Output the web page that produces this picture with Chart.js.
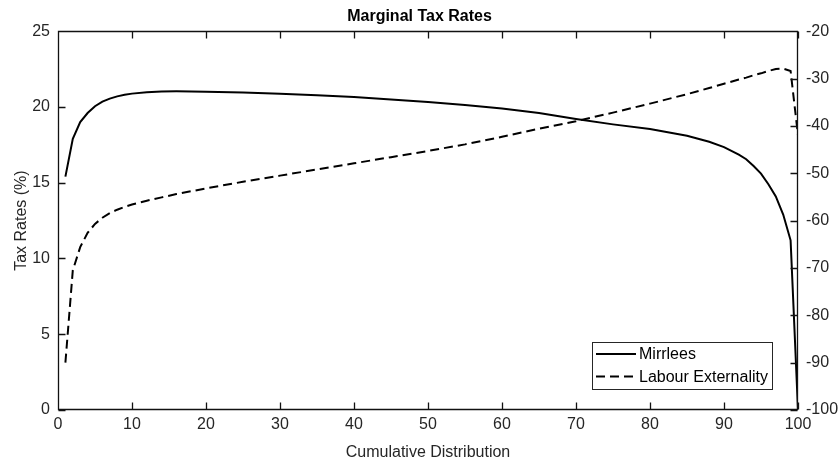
<!DOCTYPE html>
<html>
<head>
<meta charset="utf-8">
<script src="https://cdn.jsdelivr.net/npm/chart.js@4/dist/chart.umd.min.js"></script>
<style>
  html, body { margin: 0; padding: 0; background: #ffffff; }
  #wrap { width: 839px; height: 467px; }
</style>
</head>
<body>
<div id="wrap"><canvas id="c" width="839" height="467"></canvas></div>
<script>
// Cumulative distribution points (percent) at which both schedules are evaluated
const percentiles = [1, 2, 3, 4, 5, 6, 7, 8, 9, 10, 12, 14, 16, 18, 20, 25, 30, 35, 40, 45,
  50, 55, 60, 65, 70, 75, 80, 85, 88, 90, 92, 93, 94, 95, 96, 97, 98, 99, 100];

// Mirrlees marginal tax rate (%), left axis
const mirrlees = [15.4, 17.9, 19.0, 19.6, 20.05, 20.35, 20.55, 20.7, 20.8, 20.88, 20.97, 21.02, 21.03, 21.02, 21.0,
  20.95, 20.87, 20.77, 20.65, 20.5, 20.33, 20.13, 19.9, 19.6, 19.2, 18.85, 18.55, 18.1, 17.7, 17.35,
  16.85, 16.55, 16.1, 15.6, 14.9, 14.1, 12.9, 11.2, 0];

// Labour externality marginal tax rate (%), right axis
const labourExternality = [-90, -70.5, -65.6, -62.6, -60.7, -59.4, -58.4, -57.7, -57.1, -56.6, -55.8, -55.1, -54.4, -53.8, -53.2,
  -51.8, -50.5, -49.2, -47.9, -46.6, -45.3, -43.9, -42.3, -40.6, -39.0, -37.2, -35.3, -33.3, -32.0, -31.1,
  -30.2, -29.8, -29.3, -28.9, -28.4, -28.0, -27.9, -28.4, -42];

const xTicks = [0, 10, 20, 30, 40, 50, 60, 70, 80, 90, 100];
const leftTicks = [0, 5, 10, 15, 20, 25];
const rightTicks = [-100, -90, -80, -70, -60, -50, -40, -30, -20];

const FONT = "'Liberation Sans', Arial, Helvetica, sans-serif";
const AXIS_COLOR = '#262626';

const toPoints = (xs, ys) => xs.map((x, i) => ({ x: x, y: ys[i] }));

// Box frame with inward-pointing tick marks on all four sides
const framePlugin = {
  id: 'frame',
  afterDraw(chart) {
    const ctx = chart.ctx;
    const a = chart.chartArea;
    const sx = chart.scales.x, sy = chart.scales.y, sy2 = chart.scales.y2;
    const len = 7;
    const L = Math.round(a.left) + 0.5, R = Math.round(a.right) - 0.5;
    const T = Math.round(a.top) + 0.5, B = Math.round(a.bottom) - 0.5;
    ctx.save();
    ctx.setLineDash([]);
    ctx.lineWidth = 1.3;
    ctx.strokeStyle = '#111111';
    ctx.beginPath();
    ctx.moveTo(L, T); ctx.lineTo(R, T); ctx.lineTo(R, B); ctx.lineTo(L, B); ctx.closePath();
    for (const v of xTicks) {
      const px = Math.round(sx.getPixelForValue(v)) + 0.5;
      ctx.moveTo(px, B); ctx.lineTo(px, B - len);
      ctx.moveTo(px, T); ctx.lineTo(px, T + len);
    }
    for (const v of leftTicks) {
      const py = Math.round(sy.getPixelForValue(v)) + 0.5;
      ctx.moveTo(L, py); ctx.lineTo(L + len, py);
    }
    for (const v of rightTicks) {
      const py = Math.round(sy2.getPixelForValue(v)) + 0.5;
      ctx.moveTo(R, py); ctx.lineTo(R - len, py);
    }
    ctx.stroke();
    ctx.restore();
  }
};

// Legend box in the lower right of the plot
const legendBoxPlugin = {
  id: 'legendBox',
  afterDraw(chart) {
    const { ctx } = chart;
    const box = { x: 592, y: 342, w: 180, h: 47 };
    ctx.save();
    ctx.fillStyle = '#ffffff';
    ctx.fillRect(box.x, box.y, box.w, box.h);
    ctx.strokeStyle = AXIS_COLOR;
    ctx.lineWidth = 1;
    ctx.strokeRect(box.x + 0.5, box.y + 0.5, box.w, box.h);
    chart.data.datasets.forEach((ds, i) => {
      const cy = box.y + 12 + i * 22.5;
      ctx.beginPath();
      ctx.strokeStyle = ds.borderColor;
      ctx.lineWidth = ds.borderWidth;
      ctx.setLineDash(ds.borderDash || []);
      ctx.moveTo(box.x + 4, cy);
      ctx.lineTo(box.x + 44, cy);
      ctx.stroke();
      ctx.setLineDash([]);
      ctx.fillStyle = '#000000';
      ctx.font = '16px ' + FONT;
      ctx.textBaseline = 'middle';
      ctx.textAlign = 'left';
      ctx.fillText(ds.label, box.x + 47, cy + 1);
    });
    ctx.restore();
  }
};

new Chart(document.getElementById('c'), {
  type: 'line',
  data: {
    datasets: [
      {
        label: 'Mirrlees',
        data: toPoints(percentiles, mirrlees),
        yAxisID: 'y',
        borderColor: '#000000',
        borderWidth: 2,
        pointRadius: 0,
        tension: 0,
        fill: false
      },
      {
        label: 'Labour Externality',
        data: toPoints(percentiles, labourExternality),
        yAxisID: 'y2',
        borderColor: '#000000',
        borderWidth: 2,
        borderDash: [9, 5],
        pointRadius: 0,
        tension: 0,
        fill: false
      }
    ]
  },
  options: {
    responsive: false,
    animation: false,
    devicePixelRatio: 1,
    layout: { padding: 0 },
    plugins: {
      legend: { display: false },
      tooltip: { enabled: false },
      title: {
        display: true,
        text: 'Marginal Tax Rates',
        color: '#000000',
        font: { family: FONT, size: 16, weight: 'bold', lineHeight: 1.2 },
        padding: { top: 7, bottom: 5 }
      }
    },
    scales: {
      x: {
        type: 'linear',
        min: 0, max: 100,
        afterBuildTicks: s => { s.ticks = xTicks.map(v => ({ value: v })); },
        afterFit: s => { s.height = 57; },
        grid: { display: false, drawTicks: false },
        border: { display: false },
        ticks: { color: AXIS_COLOR, font: { family: FONT, size: 16 }, padding: 5, maxRotation: 0, autoSkip: false },
        title: {
          display: true, text: 'Cumulative Distribution', color: AXIS_COLOR,
          font: { family: FONT, size: 16, lineHeight: 1.2 }, padding: { top: 0, bottom: 5 }
        }
      },
      y: {
        type: 'linear',
        position: 'left',
        min: 0, max: 25,
        afterBuildTicks: s => { s.ticks = leftTicks.map(v => ({ value: v })); },
        afterFit: s => { s.width = 58; },
        grid: { display: false, drawTicks: false },
        border: { display: false },
        ticks: { color: AXIS_COLOR, font: { family: FONT, size: 16 }, padding: 8 },
        title: {
          display: true, text: 'Tax Rates (%)', color: AXIS_COLOR,
          font: { family: FONT, size: 16, lineHeight: 1.2 }, padding: { top: 12, bottom: 0 }
        }
      },
      y2: {
        type: 'linear',
        position: 'right',
        min: -100, max: -20,
        afterBuildTicks: s => { s.ticks = rightTicks.map(v => ({ value: v })); },
        afterFit: s => { s.width = 41; },
        grid: { display: false, drawTicks: false },
        border: { display: false },
        ticks: { color: AXIS_COLOR, font: { family: FONT, size: 16 }, padding: 8 }
      }
    }
  },
  plugins: [framePlugin, legendBoxPlugin]
});
</script>
</body>
</html>
